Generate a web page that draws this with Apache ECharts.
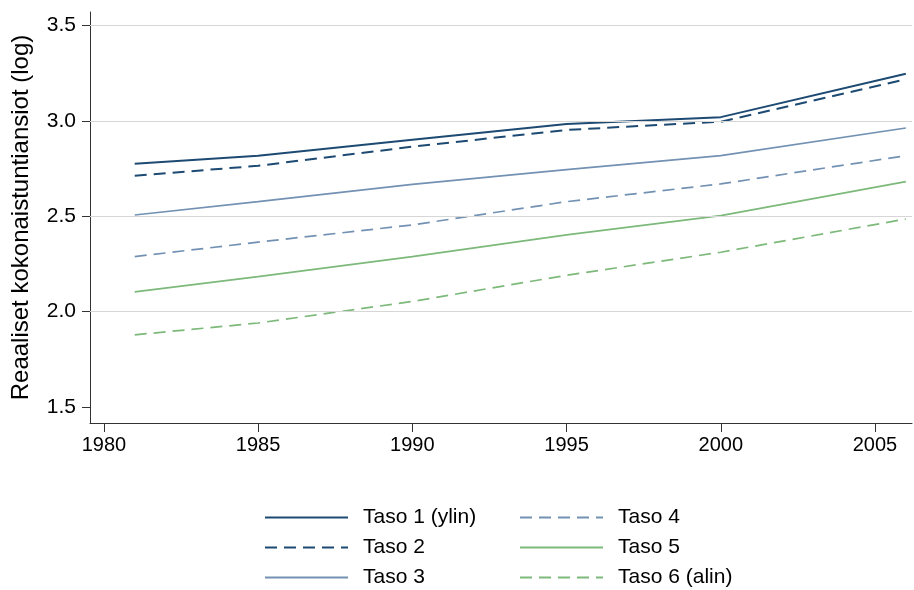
<!DOCTYPE html>
<html>
<head>
<meta charset="utf-8">
<script src="https://cdn.jsdelivr.net/npm/echarts@6/dist/echarts.min.js"></script>
<style>
  html, body { margin: 0; padding: 0; background: #fff; }
  #main { width: 914px; height: 590px; }
</style>
</head>
<body>
<div id="main"></div>
<script>
// years sampled in the source
var years = [1981, 1985, 1990, 1995, 2000, 2006];

// log real total hourly earnings per level
var taso1 = [2.775, 2.817, 2.900, 2.983, 3.019, 3.246];
var taso2 = [2.712, 2.764, 2.864, 2.952, 2.995, 3.217];
var taso3 = [2.506, 2.576, 2.667, 2.744, 2.817, 2.962];
var taso4 = [2.288, 2.364, 2.454, 2.576, 2.669, 2.817];
var taso5 = [2.103, 2.183, 2.288, 2.402, 2.503, 2.681];
var taso6 = [1.878, 1.940, 2.053, 2.190, 2.311, 2.485];

var names = ["Taso 1 (ylin)", "Taso 2", "Taso 3", "Taso 4", "Taso 5", "Taso 6 (alin)"];
var xTicks = [1980, 1985, 1990, 1995, 2000, 2005];
var yTicks = [1.5, 2.0, 2.5, 3.0, 3.5];
var gridValues = [2.0, 2.5, 3.0, 3.5];

var font = "'Liberation Sans', Arial, sans-serif";
var dark = "#1d4a72";
var mid = "#7392b3";
var green = "#7db97a";

function pairs(vals) {
  return years.map(function (y, i) { return [y, vals[i]]; });
}

function line(name, vals, color, width, dashed) {
  return {
    name: name,
    type: "line",
    symbol: "none",
    z: 3,
    data: pairs(vals),
    lineStyle: { color: color, width: width, type: dashed ? [12, 7] : "solid" },
    itemStyle: { color: color },
    emphasis: { disabled: true }
  };
}

function legendBlock(items, left) {
  return {
    data: items,
    orient: "vertical",
    left: left,
    top: 507,
    height: 90,
    padding: 0,
    itemWidth: 83,
    itemHeight: 14,
    itemGap: 9,
    itemStyle: { opacity: 0 },
    textStyle: { fontSize: 21, lineHeight: 21, color: "#000", fontFamily: font, padding: [0, 0, 0, 10] }
  };
}

var myChart = echarts.init(document.getElementById("main"));

var option = {
  animation: false,
  textStyle: { fontFamily: font },
  grid: { left: 90, right: 2, top: 12, bottom: 167 },
  xAxis: {
    type: "value",
    min: 1979.55,
    max: 2006.2,
    axisLine: { show: true, lineStyle: { color: "#333", width: 1 } },
    axisTick: { show: true, length: 9, customValues: xTicks, lineStyle: { color: "#333" } },
    axisLabel: {
      customValues: xTicks,
      color: "#000",
      fontSize: 20,
      margin: 12,
      fontFamily: font,
      formatter: function (v) { return String(v); }
    },
    splitLine: { show: false }
  },
  yAxis: {
    type: "value",
    min: 1.416,
    max: 3.57,
    name: "Reaaliset kokonaistuntiansiot (log)",
    nameLocation: "middle",
    nameGap: 57,
    nameTextStyle: { fontSize: 24, color: "#000", fontFamily: font },
    axisLine: { show: true, lineStyle: { color: "#333", width: 1 } },
    axisTick: { show: true, length: 8, customValues: yTicks, lineStyle: { color: "#333" } },
    axisLabel: {
      customValues: yTicks,
      color: "#000",
      fontSize: 21,
      margin: 14,
      fontFamily: font,
      formatter: function (v) { return v.toFixed(1); }
    },
    splitLine: { show: false }
  },
  legend: [
    legendBlock(names.slice(0, 3), 264),
    legendBlock(names.slice(3), 519)
  ],
  series: [
    {
      type: "line",
      data: [],
      silent: true,
      z: 1,
      markLine: {
        symbol: "none",
        silent: true,
        label: { show: false },
        lineStyle: { color: "#d6d6d6", width: 1.2, type: "solid" },
        data: gridValues.map(function (v) { return { yAxis: v }; })
      }
    },
    line(names[0], taso1, dark, 2, false),
    line(names[1], taso2, dark, 2, true),
    line(names[2], taso3, mid, 1.7, false),
    line(names[3], taso4, mid, 1.7, true),
    line(names[4], taso5, green, 1.7, false),
    line(names[5], taso6, green, 1.7, true)
  ]
};

option && myChart.setOption(option);
</script>
</body>
</html>
